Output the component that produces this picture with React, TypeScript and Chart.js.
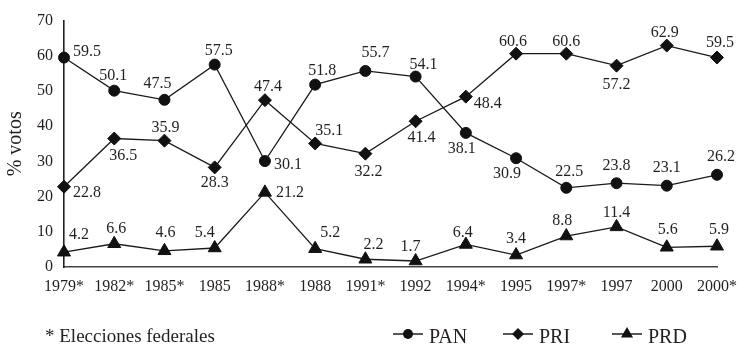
import React, { useEffect, useRef } from 'react';
import { Chart, registerables } from 'chart.js';
Chart.register(...registerables);

const categories = ['1979*', '1982*', '1985*', '1985', '1988*', '1988', '1991*', '1992', '1994*', '1995', '1997*', '1997', '2000', '2000*'];
const panValues = [59.5, 50.1, 47.5, 57.5, 30.1, 51.8, 55.7, 54.1, 38.1, 30.9, 22.5, 23.8, 23.1, 26.2];
const priValues = [22.8, 36.5, 35.9, 28.3, 47.4, 35.1, 32.2, 41.4, 48.4, 60.6, 60.6, 57.2, 62.9, 59.5];
const prdValues = [4.2, 6.6, 4.6, 5.4, 21.2, 5.2, 2.2, 1.7, 6.4, 3.4, 8.8, 11.4, 5.6, 5.9];
const seriesNames = ['PAN', 'PRI', 'PRD'];
const yMin = 0;
const yMax = 70;
const yStep = 10;
const yTitle = '% votos';
const footnote = '* Elecciones federales';

// data-label offsets (dx, dy) in px relative to each point
const panLabelOffsets = [[23, -6], [-1, -15], [-7, -16], [4, -14], [23, 4], [7, -14], [10, -18], [8, -12], [-4, 16], [-9, 16], [3, -16], [0, -17], [0, -18], [4, -18]];
const priLabelOffsets = [[23, 6], [9, 17], [1, -13], [0, 15], [3, -13], [14, -13], [3, 18], [6, 17], [22, 7], [-3, -12], [0, -12], [0, 19], [-2, -13], [3, -15]];
const prdLabelOffsets = [[15, -17], [2, -15], [1, -18], [-10, -15], [25, 0], [15, -16], [8, -14], [-5, -14], [-3, -12], [0, -16], [-4, -15], [0, -14], [1, -17], [2, -16]];

const FONT = '"Liberation Serif", "Times New Roman", serif';
const INK = '#231f20';
const markerStyles = ['circle', 'rectRot', 'triangle'];
const markerRadii = [5.5, 6.5, 7.5];

function drawMarker(ctx: CanvasRenderingContext2D, style: string, r: number, x: number, y: number) {
  ctx.beginPath();
  if (style === 'circle') {
    ctx.arc(x, y, r, 0, Math.PI * 2);
  } else if (style === 'rectRot') {
    ctx.moveTo(x, y - r);
    ctx.lineTo(x + r, y);
    ctx.lineTo(x, y + r);
    ctx.lineTo(x - r, y);
    ctx.closePath();
  } else {
    const s = (r * 3) / Math.sqrt(3);
    const h = (s * Math.sqrt(3)) / 2;
    ctx.moveTo(x, y - (2 / 3) * h);
    ctx.lineTo(x + s / 2, y + h / 3);
    ctx.lineTo(x - s / 2, y + h / 3);
    ctx.closePath();
  }
  ctx.fill();
}

const labelsPlugin = {
  id: 'customLabels',
  afterDatasetsDraw(chart: any) {
    const ctx = chart.ctx;
    const offsets = [panLabelOffsets, priLabelOffsets, prdLabelOffsets];
    ctx.save();
    ctx.font = `16px ${FONT}`;
    ctx.fillStyle = INK;
    ctx.textAlign = 'center';
    ctx.textBaseline = 'middle';
    chart.data.datasets.forEach((ds: any, di: number) => {
      const meta = chart.getDatasetMeta(di);
      meta.data.forEach((pt: any, i: number) => {
        const [dx, dy] = offsets[di][i];
        ctx.fillText(String(ds.data[i]), pt.x + dx, pt.y + dy);
      });
    });
    ctx.restore();
  },
  afterDraw(chart: any) {
    const ctx = chart.ctx;
    ctx.save();
    ctx.font = `19px ${FONT}`;
    ctx.fillStyle = INK;
    ctx.textAlign = 'left';
    ctx.textBaseline = 'alphabetic';
    ctx.fillText(footnote, 45, 342);
    const starts = [393, 503, 612];
    const lineY = 334;
    chart.data.datasets.forEach((_ds: any, di: number) => {
      const x0 = starts[di];
      ctx.strokeStyle = INK;
      ctx.lineWidth = 1.5;
      ctx.beginPath();
      ctx.moveTo(x0, lineY);
      ctx.lineTo(x0 + 30, lineY);
      ctx.stroke();
      ctx.fillStyle = '#111';
      drawMarker(ctx, markerStyles[di], markerRadii[di] - 0.5, x0 + 15, lineY);
      ctx.fillStyle = INK;
      ctx.font = `20px ${FONT}`;
      ctx.fillText(seriesNames[di], x0 + 36, 343);
    });
    ctx.restore();
  },
};

export default function App() {
  const ref = useRef<HTMLCanvasElement>(null);
  useEffect(() => {
    if (!ref.current) return;
    const values = [panValues, priValues, prdValues];
    const chart = new Chart(ref.current, {
      type: 'line',
      data: {
        labels: categories,
        datasets: values.map((v, i) => ({
          label: seriesNames[i],
          data: v,
          borderColor: '#1a1a1a',
          borderWidth: 1.3,
          backgroundColor: '#111',
          pointBackgroundColor: '#111',
          pointBorderColor: '#111',
          pointBorderWidth: 1,
          pointStyle: markerStyles[i] as any,
          pointRadius: markerRadii[i],
          tension: 0,
        })),
      },
      options: {
        responsive: false,
        animation: false,
        devicePixelRatio: 1,
        layout: { padding: { left: 0, right: 22, top: 19, bottom: 47 } },
        plugins: { legend: { display: false }, tooltip: { enabled: false } },
        scales: {
          x: {
            type: 'category',
            offset: false,
            grid: { display: false, drawTicks: false },
            border: { display: true, color: '#444', width: 1.6 },
            ticks: {
              color: INK,
              font: { family: FONT, size: 16 },
              padding: 10,
              maxRotation: 0,
              autoSkip: false,
            },
            afterFit: (s: any) => { s.height = 30; },
          },
          y: {
            min: yMin,
            max: yMax,
            grid: { display: false, drawTicks: false },
            border: { display: true, color: '#222', width: 1.6 },
            ticks: {
              stepSize: yStep,
              color: INK,
              font: { family: FONT, size: 16 },
              padding: 11,
            },
            title: {
              display: true,
              text: yTitle,
              color: INK,
              font: { family: FONT, size: 20 },
              padding: { top: 4, bottom: 0 },
            },
            afterFit: (s: any) => { s.width = 64; },
          },
        },
      },
      plugins: [labelsPlugin],
    });
    return () => chart.destroy();
  }, []);
  return (
    <div style={{ position: 'absolute', left: 0, top: 0, width: 747, height: 344, background: '#fff' }}>
      <canvas ref={ref} width={747} height={344} />
    </div>
  );
}
